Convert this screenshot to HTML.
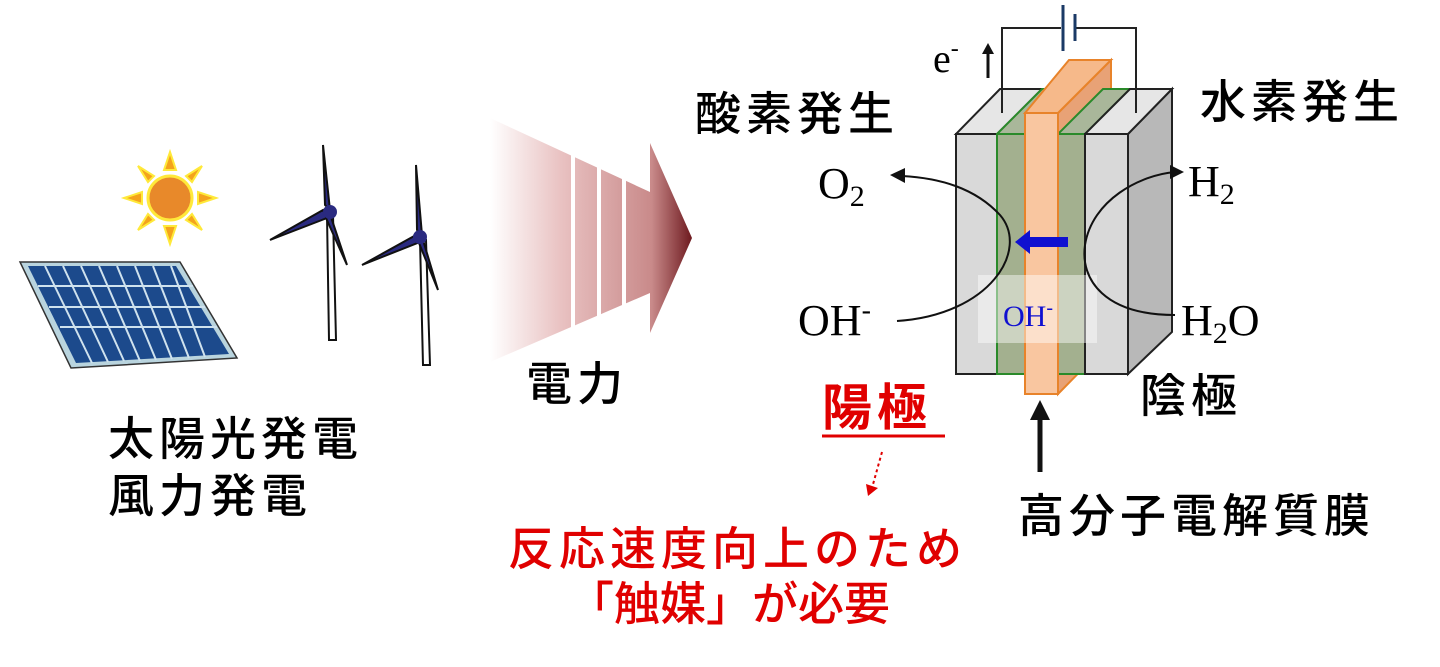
<!DOCTYPE html>
<html><head><meta charset="utf-8"><style>
html,body{margin:0;padding:0;background:#fff;}
svg{display:block}
.jp{font-family:"Liberation Sans","Noto Sans CJK JP",sans-serif;font-size:46px;letter-spacing:5px;font-weight:500;}
.tm{font-family:"Liberation Serif",serif;}
</style></head><body>
<svg width="1440" height="667" viewBox="0 0 1440 667" xmlns="http://www.w3.org/2000/svg">
<defs>
<linearGradient id="ag" x1="490" y1="0" x2="692" y2="0" gradientUnits="userSpaceOnUse">
<stop offset="0" stop-color="#fff"/><stop offset="0.35" stop-color="#e9c2c2"/><stop offset="0.8" stop-color="#c98a8a"/><stop offset="1" stop-color="#6e1a1f"/>
</linearGradient>
</defs>
<!-- sun -->
<g fill="#f4a31c" stroke="#ffe93a" stroke-width="2">
<polygon points="170,152 176,170 164,170"/><polygon points="170,244 176,226 164,226"/>
<polygon points="124,198 142,192 142,204"/><polygon points="216,198 198,192 198,204"/>
<polygon points="138,166 154,176 148,182"/><polygon points="202,166 186,176 192,182"/>
<polygon points="138,230 154,220 148,214"/><polygon points="202,230 186,220 192,214"/>
</g>
<circle cx="170" cy="198" r="22" fill="#e8892a" stroke="#ffe93a" stroke-width="3"/>
<!-- solar panel -->
<polygon points="20,262 180,262 237,358 71,368" fill="#b9d4de" stroke="#333" stroke-width="1.5"/>
<polygon points="28,266 176,266 229,354 76,363" fill="#1c4a8c"/>
<g stroke="#cfe2ee" stroke-width="2">
<line x1="38" y1="286" x2="193" y2="286"/><line x1="49" y1="307" x2="205" y2="307"/><line x1="60" y1="327" x2="217" y2="327"/>
<line x1="45" y1="266" x2="92" y2="363"/><line x1="63" y1="266" x2="108" y2="362"/><line x1="81" y1="266" x2="124" y2="361"/>
<line x1="99" y1="266" x2="140" y2="361"/><line x1="117" y1="266" x2="156" y2="360"/><line x1="135" y1="266" x2="172" y2="359"/>
<line x1="153" y1="266" x2="189" y2="358"/><line x1="171" y1="266" x2="205" y2="357"/>
</g>
<!-- turbines -->
<g stroke="#111" stroke-width="2" fill="#fff">
<polygon points="327,215 333,215 336,340 329,340"/>
<path d="M325,205 L323,145 L330,210 Z" fill="#2a2a80"/>
<path d="M323,210 L270,240 L327,218 Z" fill="#2a2a80"/>
<path d="M330,214 L347,265 L326,218 Z" fill="#2a2a80"/>
<polygon points="420,240 426,240 430,365 423,365"/>
<path d="M417,230 L416,165 L422,235 Z" fill="#2a2a80"/>
<path d="M416,235 L362,265 L420,242 Z" fill="#2a2a80"/>
<path d="M423,240 L438,290 L419,243 Z" fill="#2a2a80"/>
</g>
<circle cx="330" cy="212" r="7" fill="#2a2a80"/><circle cx="420" cy="237" r="7" fill="#2a2a80"/>
<!-- big arrow -->
<polygon points="490,118 650,192 650,143 692,238 650,333 650,293 490,362" fill="url(#ag)"/>
<g fill="#fff"><rect x="571" y="100" width="4" height="260"/><rect x="597" y="100" width="4" height="260"/><rect x="622" y="100" width="4" height="260"/></g>
<!-- cell right side face -->
<polygon points="1128,134 1172,89 1172,332 1128,374" fill="#b8b8b8" stroke="#222" stroke-width="2"/>
<polygon points="956,134 997,134 1042,89 1000,89" fill="#e6e6e6" stroke="#222" stroke-width="2"/>
<polygon points="997,134 1025,134 1070,89 1042,89" fill="#a9b79a" stroke="#2a8a2a" stroke-width="2"/>
<polygon points="1058,113 1111,60 1111,340 1058,394" fill="#e8a276" stroke="#e8832a" stroke-width="2"/>
<polygon points="1058,134 1085,134 1130,89 1103,89" fill="#a9b79a" stroke="#2a8a2a" stroke-width="2"/>
<polygon points="1085,134 1128,134 1172,89 1130,89" fill="#e6e6e6" stroke="#222" stroke-width="2"/>
<rect x="956" y="134" width="41" height="240" fill="#d9d9d9" stroke="#222" stroke-width="2"/>
<rect x="997" y="134" width="28" height="240" fill="#a3b08f" stroke="#2a8a2a" stroke-width="2"/>
<rect x="1058" y="134" width="27" height="240" fill="#a3b08f" stroke="#2a8a2a" stroke-width="2"/>
<rect x="1085" y="134" width="43" height="240" fill="#d9d9d9" stroke="#222" stroke-width="2"/>
<polygon points="1025,113 1069,60 1111,60 1058,113" fill="#f6b98a" stroke="#e8832a" stroke-width="2"/>
<rect x="1025" y="113" width="33" height="281" fill="#f9c6a0" stroke="#e8832a" stroke-width="2"/>
<rect x="978" y="275" width="119" height="68" fill="#fff" fill-opacity="0.45"/>
<text x="1003" y="326" class="tm" font-size="30" fill="#1010d0">OH<tspan dy="-12" font-size="20">-</tspan></text>
<polygon points="1068,237 1030,237 1030,230 1015,242 1030,254 1030,247 1068,247" fill="#1010d0"/>
<polyline points="1002,113 1002,28 1061,28" fill="none" stroke="#222" stroke-width="2"/>
<polyline points="1076,28 1136,28 1136,113" fill="none" stroke="#222" stroke-width="2"/>
<line x1="1063" y1="5" x2="1063" y2="51" stroke="#1b3a66" stroke-width="3"/>
<line x1="1075" y1="14" x2="1075" y2="41" stroke="#1b3a66" stroke-width="3"/>
<text x="933" y="72" class="tm" font-size="40">e<tspan dy="-16" font-size="24">-</tspan></text>
<line x1="988" y1="78" x2="988" y2="52" stroke="#111" stroke-width="3"/><polygon points="982,54 994,54 988,43" fill="#111"/>
<path d="M897,321 C990,315 1030,250 1000,215 C975,188 940,178 902,176" fill="none" stroke="#111" stroke-width="2"/>
<polygon points="890,175 905,168 905,183" fill="#111"/>
<path d="M1175,315 C1105,315 1080,280 1085,245 C1092,200 1140,175 1175,172" fill="none" stroke="#111" stroke-width="2"/>
<polygon points="1184,172 1170,165 1170,179" fill="#111"/>
<text x="695" y="130" class="jp">酸素発生</text>
<text x="1200" y="118" class="jp">水素発生</text>
<text x="818" y="198" class="tm" font-size="44">O<tspan dy="8" font-size="30">2</tspan></text>
<text x="1188" y="196" class="tm" font-size="44">H<tspan dy="8" font-size="30">2</tspan></text>
<text x="798" y="335" class="tm" font-size="44">OH<tspan dy="-16" font-size="28">-</tspan></text>
<text x="1181" y="335" class="tm" font-size="44">H<tspan dy="8" font-size="30">2</tspan><tspan dy="-8">O</tspan></text>
<text x="1140" y="412" class="jp">陰極</text>
<text x="822" y="425" class="jp" fill="#e00000" style="font-size:50px;font-weight:700">陽極</text>
<line x1="822" y1="436" x2="945" y2="436" stroke="#e00000" stroke-width="3"/>
<line x1="882" y1="452" x2="872" y2="488" stroke="#e00000" stroke-width="2" stroke-dasharray="3,3"/>
<polygon points="866,484 878,488 868,496" fill="#e00000"/>
<text x="508" y="565" class="jp" fill="#e00000">反応速度向上のため</text>
<text x="568" y="620" class="jp" fill="#e00000" style="letter-spacing:0">「触媒」が必要</text>
<line x1="1040" y1="472" x2="1040" y2="418" stroke="#111" stroke-width="5"/><polygon points="1030,420 1050,420 1040,400" fill="#111"/>
<text x="1018" y="532" class="jp">高分子電解質膜</text>
<text x="108" y="455" class="jp">太陽光発電</text>
<text x="108" y="512" class="jp">風力発電</text>
<text x="526" y="400" class="jp">電力</text>
</svg>
</body></html>
